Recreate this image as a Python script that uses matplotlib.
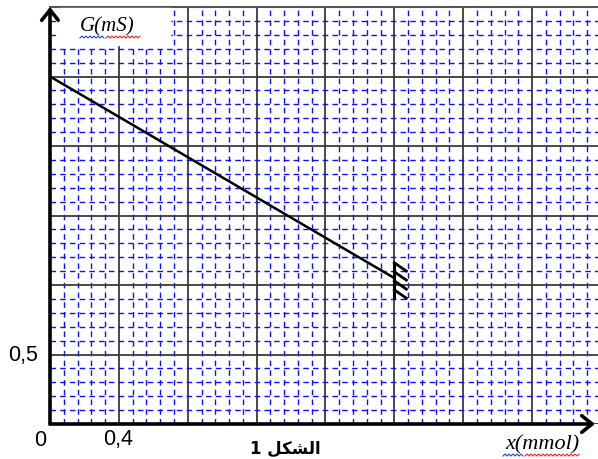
import numpy as np
import matplotlib
matplotlib.use("Agg")
import matplotlib.pyplot as plt
from matplotlib.ticker import MultipleLocator

# data
x_mmol = [0.0, 2.0]     # x (mmol)
G_mS = [2.5, 1.05]      # G (mS)
x_major = 0.4
y_major = 0.5
x_max = 3.183
y_max = 3.0

W, H = 598, 459
fig = plt.figure(figsize=(W/100, H/100), dpi=100)
ax = fig.add_axes([50/W, 35/H, 548/W, 417/H])
ax.set_xlim(0, x_max)
ax.set_ylim(0, y_max)

# graph paper grid
ax.xaxis.set_major_locator(MultipleLocator(x_major))
ax.yaxis.set_major_locator(MultipleLocator(y_major))
ax.xaxis.set_minor_locator(MultipleLocator(x_major/5))
ax.yaxis.set_minor_locator(MultipleLocator(y_major/5))
ax.grid(which='minor', color='#1010ff', lw=1.0, ls=(0, (4, 3)))
ax.grid(which='major', color='#3a3a3a', lw=1.3)
ax.tick_params(which='both', length=0, labelbottom=False, labelleft=False)
for s in ['left', 'right', 'bottom']:
    ax.spines[s].set_visible(False)
ax.spines['top'].set_color('#555555')
ax.spines['top'].set_linewidth(1.5)

# the measured line
ax.plot(x_mmol, G_mS, color='black', lw=1.8, solid_capstyle='butt', zorder=5)

# break mark at the end of the line
xe, ye = x_mmol[-1], G_mS[-1]
ax.plot([xe, xe], [ye + 0.11, ye - 0.14], color='black', lw=2.2, zorder=6)
for k in range(4):
    y0 = ye + 0.11 - k*0.065
    ax.plot([xe, xe + 0.07], [y0, y0 - 0.06], color='black', lw=2.0, zorder=6)

# axes as thick arrows
arrow = dict(arrowstyle='->,head_length=0.75,head_width=0.6', lw=2.6,
             color='black', mutation_scale=10, shrinkA=0, shrinkB=0)
ax.annotate('', xy=(0, 1.0), xytext=(0, 0), xycoords='axes fraction',
            arrowprops=arrow, annotation_clip=False, zorder=10)
ax.annotate('', xy=(545/548, 0), xytext=(0, 0), xycoords='axes fraction',
            arrowprops=arrow, annotation_clip=False, zorder=10)

# white patch behind the y label
fig.patches.append(plt.Rectangle((60/W, 1 - 45/H), 110/W, 37/H,
                                 transform=fig.transFigure, color='white', zorder=3))

serif = 'Liberation Serif'
fig.text(80/W, 1 - 31/H, 'G(mS)', fontsize=15, family=serif, style='italic', zorder=4)
fig.text(505/W, 1 - 449/H, 'x(mmol)', fontsize=16, family=serif, style='italic')

sans = 'Liberation Sans'
fig.text(8/W, 1 - 355/H, '0,5', fontsize=15.5, family=sans, va='center')
fig.text(34/W, 1 - 440/H, '0', fontsize=15.5, family=sans, va='center')
fig.text(103/W, 1 - 440/H, '0,4', fontsize=15.5, family=sans, va='center')

# Arabic caption, shaped glyphs
fig.text(285/W, 1 - 458/H, '1 \uFEDE\uFEDC\uFEB8\uFEDF\uFE8D', fontsize=12,
         family='DejaVu Sans', weight='bold', ha='center', va='bottom')


def squiggle(x0, x1, y, color):
    xs = np.arange(x0, x1 + 1, 2.0)
    ys = y + np.where(np.arange(len(xs)) % 2 == 0, 1.0, -1.0)
    fig.add_artist(plt.Line2D(xs/W, 1 - ys/H, color=color, lw=0.8, zorder=4))


squiggle(80, 104, 37, '#2040ff')
squiggle(106, 140, 37, '#ff2020')
squiggle(503, 524, 455, '#2040ff')
squiggle(525, 580, 455, '#ff2020')

fig.savefig('out.png', dpi=100)
